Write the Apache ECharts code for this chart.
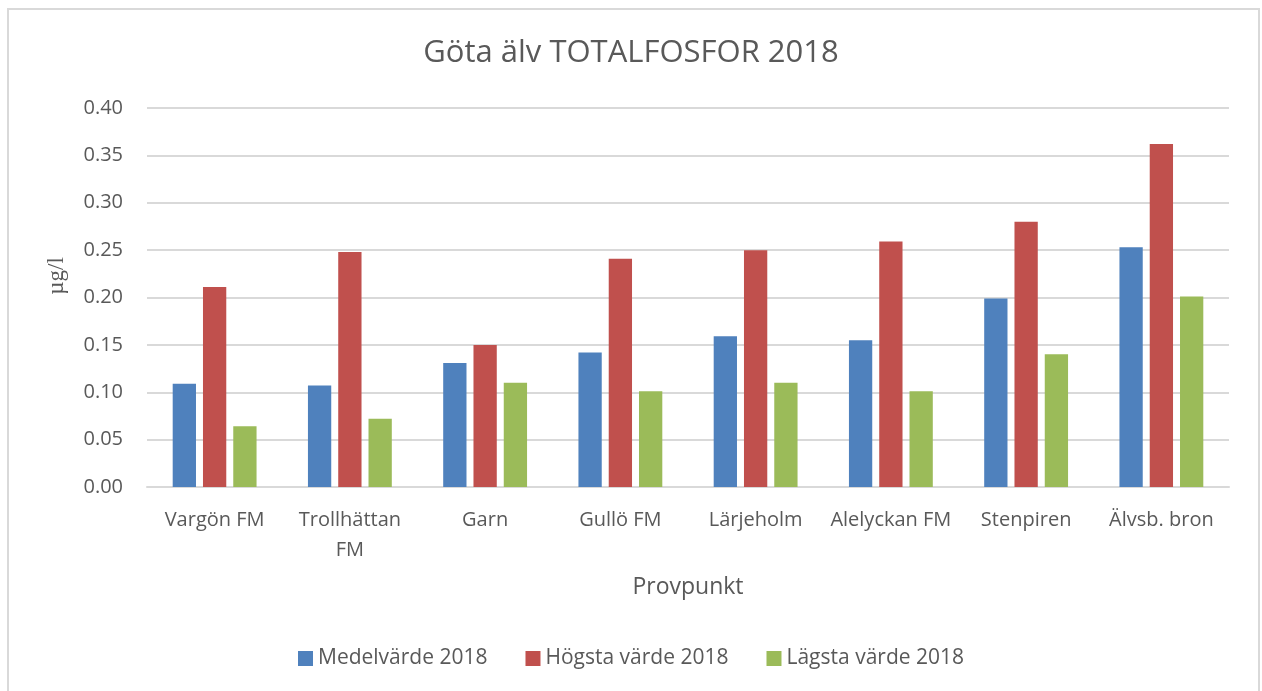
<!DOCTYPE html>
<html>
<head>
<meta charset="utf-8">
<script src="https://cdn.jsdelivr.net/npm/echarts@6/dist/echarts.min.js"></script>
<style>
  html, body { margin: 0; padding: 0; background: #fff; }
  #chart { width: 1262px; height: 691px; }
  .frame {
    position: absolute; left: 7px; top: 8px; width: 1253px; height: 700px;
    border: 2px solid #d9d9d9; box-sizing: border-box; pointer-events: none;
  }
</style>
</head>
<body>
<div id="chart"></div>
<div class="frame"></div>
<script>
// data
const categories = ["Vargön FM", "Trollhättan\nFM", "Garn", "Gullö FM", "Lärjeholm", "Alelyckan FM", "Stenpiren", "Älvsb. bron"];
const medel = [0.109, 0.107, 0.131, 0.142, 0.159, 0.155, 0.199, 0.253];
const hogsta = [0.211, 0.248, 0.150, 0.241, 0.250, 0.259, 0.280, 0.362];
const lagsta = [0.064, 0.072, 0.110, 0.101, 0.110, 0.101, 0.140, 0.201];
const seriesNames = ["Medelvärde 2018", "Högsta värde 2018", "Lägsta värde 2018"];

const font = "'Open Sans', sans-serif";
const textColor = "#595959";

let mychart = echarts.init(document.getElementById("chart"));

function bar(name, data, color) {
  return {
    name: name,
    type: "bar",
    data: data,
    barGap: "30%",
    barCategoryGap: "38%",
    itemStyle: { color: color },
  };
}

mychart.setOption({
  animation: false,
  textStyle: { fontFamily: font },
  title: {
    text: "Göta älv TOTALFOSFOR 2018",
    left: "center",
    top: 33,
    textStyle: { fontFamily: font, fontSize: 31, fontWeight: "normal", color: textColor },
  },
  grid: { left: 147, right: 33, top: 108, bottom: 204 },
  legend: {
    bottom: 17,
    left: "center",
    itemWidth: 15,
    itemHeight: 15,
    itemGap: 38,
    icon: "rect",
    textStyle: { fontFamily: font, fontSize: 21, color: textColor },
    data: seriesNames,
  },
  // y-axis title, rotated like the original
  graphic: [
    {
      type: "text",
      x: 57,
      y: 276,
      rotation: Math.PI / 2,
      style: {
        text: "µg/l",
        font: "23px 'Liberation Serif', serif",
        fill: textColor,
        textAlign: "center",
        textVerticalAlign: "middle",
      },
    },
  ],
  xAxis: {
    type: "category",
    data: categories,
    name: "Provpunkt",
    nameLocation: "middle",
    nameGap: 89,
    nameTextStyle: { fontFamily: font, fontSize: 23, color: textColor },
    axisLine: { lineStyle: { color: "#d9d9d9", width: 2 } },
    axisTick: { show: false },
    axisLabel: {
      interval: 0,
      fontFamily: font,
      fontSize: 20,
      color: textColor,
      lineHeight: 30,
      margin: 18,
    },
  },
  yAxis: {
    type: "value",
    min: 0,
    max: 0.4,
    interval: 0.05,
    axisLine: { show: false },
    axisTick: { show: false },
    axisLabel: {
      fontFamily: font,
      fontSize: 20,
      color: textColor,
      margin: 24,
      formatter: (v) => v.toFixed(2),
    },
    splitLine: { lineStyle: { color: "#d9d9d9", width: 2 } },
  },
  series: [
    bar(seriesNames[0], medel, "#4f81bd"),
    bar(seriesNames[1], hogsta, "#c0504d"),
    bar(seriesNames[2], lagsta, "#9bbb59"),
  ],
});
</script>
</body>
</html>
